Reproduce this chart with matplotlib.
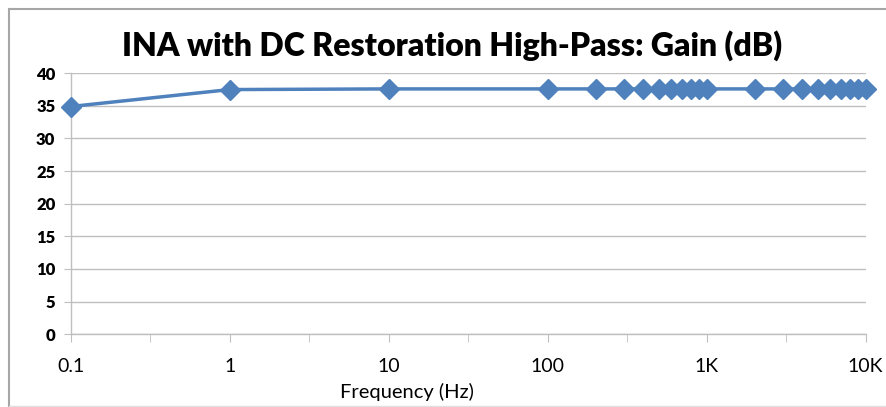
import numpy as np
import matplotlib.pyplot as plt
from matplotlib.lines import Line2D
from matplotlib.ticker import FixedLocator, FixedFormatter

plt.rcParams['font.family'] = ['Lato', 'DejaVu Sans']

# data
freq = [0.1, 1, 10, 100, 200, 300, 400, 500, 600, 700, 800, 900, 1000,
        2000, 3000, 4000, 5000, 6000, 7000, 8000, 9000, 10000]
gain = [34.9, 37.5, 37.6, 37.6, 37.6, 37.6, 37.6, 37.6, 37.6, 37.6, 37.6, 37.6, 37.6,
        37.6, 37.6, 37.6, 37.6, 37.6, 37.6, 37.6, 37.6, 37.6]
xticks = [0.1, 1, 10, 100, 1000, 10000]
xlabels = ['0.1', '1', '10', '100', '1K', '10K']
yticks = [0, 5, 10, 15, 20, 25, 30, 35, 40]

col = '#4F81BD'
grey = '#BFBFBF'

fig = plt.figure(figsize=(8.87, 4.07), dpi=100)
ax = fig.add_axes([0.0797, 0.179, 0.8963, 0.641])

ax.plot(freq, gain, color=col, lw=2.5, marker='D', ms=10, mec=col, mfc=col, zorder=3,
        clip_on=False)

ax.set_xscale('log')
ax.set_xlim(0.1, 10000)
ax.set_ylim(0, 40)

ax.xaxis.set_major_locator(FixedLocator(xticks))
ax.xaxis.set_major_formatter(FixedFormatter(xlabels))
ax.xaxis.set_minor_locator(FixedLocator([10 ** (k + 0.5) for k in range(-1, 4)]))
ax.set_yticks(yticks)

ax.grid(axis='y', color=grey, lw=1)
ax.set_axisbelow(True)
for s in ['top', 'right']:
    ax.spines[s].set_visible(False)
for s in ['left', 'bottom']:
    ax.spines[s].set_color(grey)
    ax.spines[s].set_linewidth(1)

ax.tick_params(axis='x', which='both', direction='out', length=6, color=grey,
               labelsize=14, pad=11)
ax.tick_params(axis='y', direction='out', length=5, color=grey, labelsize=12, pad=6)
for t in ax.get_yticklabels():
    t.set_fontweight('heavy')

fig.text(0.51, 0.889, 'INA with DC Restoration High-Pass: Gain (dB)', ha='center',
         va='center', fontsize=23, fontweight='heavy')
fig.text(0.459, 0.037, 'Frequency (Hz)', ha='center', va='center', fontsize=14.5)

# chart border
fig.add_artist(Line2D([9 / 887, 9 / 887], [0.0025, 1 - 9 / 407], color='#A6A6A6', lw=1.5))
fig.add_artist(Line2D([9 / 887, 1], [1 - 9 / 407, 1 - 9 / 407], color='#A6A6A6', lw=1.5))
fig.add_artist(Line2D([9 / 887, 1], [0.0025, 0.0025], color='#E0E0E0', lw=1))

fig.savefig('out.png', dpi=100)
